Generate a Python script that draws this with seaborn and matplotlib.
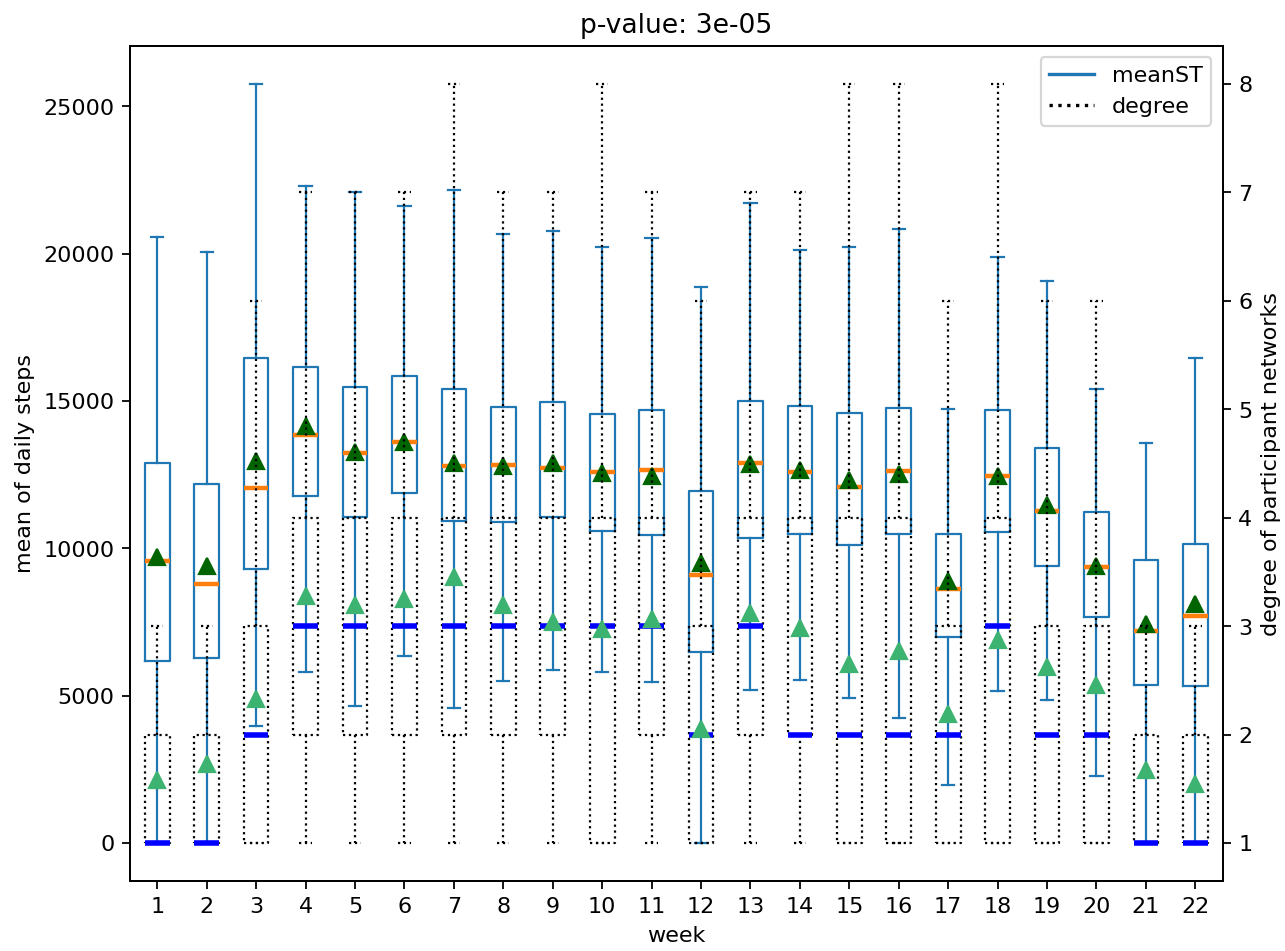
import matplotlib
matplotlib.use("Agg")
import matplotlib.pyplot as plt
from matplotlib.lines import Line2D
import seaborn as sns

weeks = list(range(1, 23))

# mean of daily steps per participant (left axis)
st_low = [0, 0, 3960, 5810, 4660, 6330, 4590, 5490, 5880, 5790, 5470,
          0, 5190, 5530, 4910, 4230, 1970, 5160, 4860, 2280, 0, 0]
st_q1 = [6160, 6280, 9290, 11780, 11050, 11870, 10930, 10900, 11050, 10590, 10450,
         6490, 10340, 10480, 10120, 10480, 6980, 10540, 9410, 7660, 5360, 5320]
st_med = [9580, 8780, 12040, 13840, 13250, 13590, 12800, 12820, 12740, 12600, 12650,
          9100, 12890, 12600, 12090, 12630, 8620, 12460, 11270, 9370, 7180, 7710]
st_q3 = [12890, 12180, 16450, 16140, 15460, 15850, 15420, 14780, 14970, 14550, 14690,
         11930, 15000, 14830, 14580, 14760, 10480, 14700, 13390, 11240, 9600, 10140]
st_high = [20550, 20060, 25770, 22300, 22090, 21620, 22150, 20660, 20750, 20230, 20520,
           18860, 21710, 20130, 20240, 20820, 14720, 19870, 19060, 15400, 13570, 16440]
st_mean = [9700, 9410, 12950, 14160, 13280, 13610, 12890, 12780, 12890, 12570, 12450,
           9490, 12860, 12660, 12320, 12510, 8890, 12450, 11480, 9400, 7430, 8120]

# degree of participant networks (right axis)
deg_low = [1] * 22
deg_q1 = [1, 1, 1, 2, 2, 2, 2, 2, 2, 1, 2, 1, 2, 2, 1, 1, 1, 1, 1, 1, 1, 1]
deg_med = [1, 1, 2, 3, 3, 3, 3, 3, 3, 3, 3, 2, 3, 2, 2, 2, 2, 3, 2, 2, 1, 1]
deg_q3 = [2, 2, 3, 4, 4, 4, 4, 4, 4, 4, 4, 3, 4, 4, 4, 4, 3, 4, 3, 3, 2, 2]
deg_high = [3, 3, 6, 7, 7, 7, 8, 7, 7, 8, 7, 6, 7, 7, 8, 8, 6, 8, 6, 6, 3, 3]
deg_mean = [1.58, 1.73, 2.33, 3.28, 3.19, 3.25, 3.45, 3.19, 3.04, 2.97, 3.06,
            2.05, 3.12, 2.98, 2.65, 2.77, 2.19, 2.87, 2.62, 2.46, 1.67, 1.54]


def make_stats(lo, q1, med, q3, hi, mean):
    return [dict(whislo=a, q1=b, med=c, q3=d, whishi=e, mean=f, fliers=[])
            for a, b, c, d, e, f in zip(lo, q1, med, q3, hi, mean)]


sns.set_style("ticks", {"axes.edgecolor": "black", "text.color": "black",
                        "axes.labelcolor": "black", "xtick.color": "black",
                        "ytick.color": "black", "lines.solid_capstyle": "projecting"})
plt.rcParams['font.family'] = ['DejaVu Sans']

pal = sns.color_palette("tab10")
blue, orange = pal[0], pal[1]

fig, ax = plt.subplots(figsize=(1285.5 / 160, 951.5 / 160), dpi=160)
fig.subplots_adjust(left=0.1012, right=0.951, bottom=0.0736, top=0.9516)
ax2 = ax.twinx()

ax.bxp(make_stats(st_low, st_q1, st_med, st_q3, st_high, st_mean),
       positions=weeks, widths=0.5, showmeans=True, showfliers=False,
       boxprops=dict(color=blue, linewidth=1),
       whiskerprops=dict(color=blue, linewidth=1),
       capprops=dict(color=blue, linewidth=1),
       medianprops=dict(color=orange, linewidth=2),
       meanprops=dict(marker='^', markerfacecolor='darkgreen',
                      markeredgecolor='darkgreen', markersize=7))

ax2.bxp(make_stats(deg_low, deg_q1, deg_med, deg_q3, deg_high, deg_mean),
        positions=weeks, widths=0.5, showmeans=True, showfliers=False,
        boxprops=dict(color='black', linestyle=':', linewidth=1),
        whiskerprops=dict(color='black', linestyle=':', linewidth=1),
        capprops=dict(color='black', linestyle=':', linewidth=1),
        medianprops=dict(color='blue', linewidth=2.5),
        meanprops=dict(marker='^', markerfacecolor='mediumseagreen',
                       markeredgecolor='mediumseagreen', markersize=7))

ax.set_xlim(0.45, 22.55)
ax.set_xticks(weeks)
ax.set_xticklabels([str(w) for w in weeks])
ax2.set_yticks(range(1, 9))

ax.set_xlabel("week")
ax.set_ylabel("mean of daily steps")
ax2.set_ylabel("degree of participant networks")
ax.set_title("p-value: 3e-05")

handles = [Line2D([], [], color=blue, linestyle='-'),
           Line2D([], [], color='black', linestyle=':')]
ax2.legend(handles, ["meanST", "degree"], loc="upper right")

fig.savefig("out.png", dpi=160)
